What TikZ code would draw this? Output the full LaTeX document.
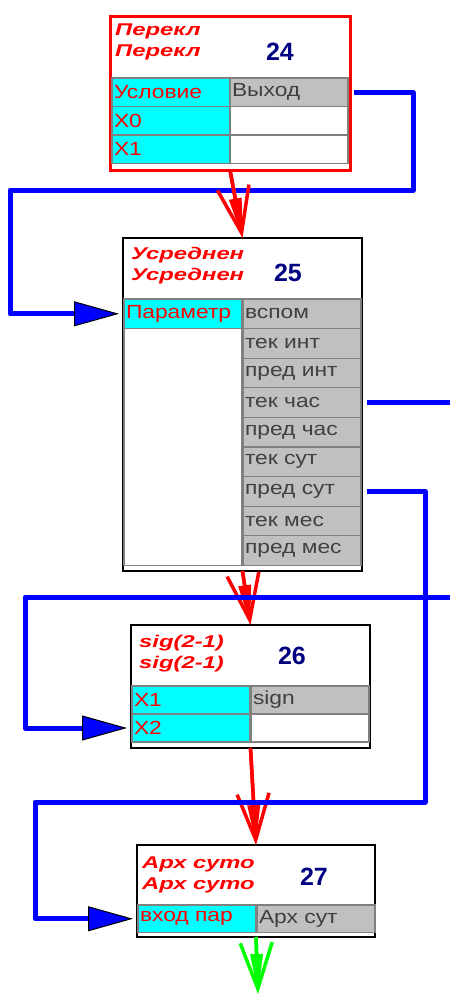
\documentclass[tikz,border=0pt]{standalone}
\usepackage{fontspec}
\usetikzlibrary{arrows.meta,positioning}
\newfontfamily\cellfont[FakeStretch=1.2]{Liberation Sans}
\newfontfamily\titlefont[FakeStretch=1.4]{Liberation Sans}
\newfontfamily\numfont{Liberation Sans}
\definecolor{silver}{RGB}{192,192,192}
\definecolor{aqua}{RGB}{0,255,255}
\definecolor{navyc}{RGB}{0,0,128}
\definecolor{portgray}{RGB}{64,64,64}
\definecolor{pure red}{RGB}{255,0,0}
\definecolor{lime}{RGB}{0,255,0}
\definecolor{pure blue}{RGB}{0,0,255}

\begin{document}
\begin{tikzpicture}[x=1pt,y=-1pt,
  frame/.style={draw=black,fill=white,line width=1.2pt,anchor=north west,inner sep=0pt,outer sep=0pt},
  cell/.style={draw=gray,line width=1.2pt,anchor=north west,minimum width=118pt,minimum height=28.5pt,text width=114pt,inner sep=2pt,outer sep=0pt,align=left,font=\cellfont\fontsize{19}{22}\selectfont},
  inport/.style={cell,fill=aqua,text=pure red},
  outport/.style={cell,fill=silver,text=portgray},
  blank/.style={cell,fill=white},
  title/.style={text=pure red,anchor=west,align=left,inner sep=0pt,font=\titlefont\bfseries\itshape\fontsize{17}{21}\selectfont},
  num/.style={text=navyc,font=\numfont\bfseries\fontsize{25}{25}\selectfont},
  flow/.style={pure red,line width=3.5pt,-{Straight Barb[length=46pt,width=32pt,line width=3.5pt]},
    postaction={draw,-{Triangle[length=40pt,width=12pt]}}},
  link/.style={pure blue,line width=5pt,line join=round,shorten <=6pt,shorten >=5pt,-{Triangle[length=45pt,width=25pt,color=black,fill=pure blue,line width=1pt]}}]
\useasboundingbox (0,0) rectangle (450,994);

% block 24
\node[frame,draw=pure red,line width=3pt,minimum width=240pt,minimum height=154pt] (b24) at (110,16) {};
\node[title] (t24) at (115,42) {Перекл\\Перекл};
\node[num] (n24) at (280,52) {24};
\node[inport] (cond) at (112,78) {Условие};
\node[outport,right=0pt of cond] (vyhod) {Выход};
\node[inport,below=0pt of cond] (x0) {X0};
\node[blank,right=0pt of x0] (e24a) {};
\node[inport,below=0pt of x0] (x1) {X1};
\node[blank,right=0pt of x1] (e24b) {};

% block 25
\node[frame,minimum width=239pt,minimum height=333pt] (b25) at (123,238) {};
\node[title] (t25) at (131,266) {Усреднен\\Усреднен};
\node[num] (n25) at (288,273) {25};
\begin{scope}[cell/.append style={minimum height=29.6pt}]
\node[inport] (param) at (124,299) {Параметр};
\node[blank,below=0pt of param,minimum height=236.8pt] (e25) {};
\node[outport,right=1pt of param] (vspom) {вспом};
\node[outport,below=0pt of vspom] (tekint) {тек инт};
\node[outport,below=0pt of tekint] (predint) {пред инт};
\node[outport,below=0pt of predint] (tekchas) {тек час};
\node[outport,below=0pt of tekchas] (predchas) {пред час};
\node[outport,below=0pt of predchas] (teksut) {тек сут};
\node[outport,below=0pt of teksut] (predsut) {пред сут};
\node[outport,below=0pt of predsut] (tekmes) {тек мес};
\node[outport,below=0pt of tekmes] (predmes) {пред мес};
\end{scope}

% block 26
\node[frame,minimum width=239pt,minimum height=123pt] (b26) at (131,625) {};
\node[title] (t26) at (139,654) {sig(2-1)\\sig(2-1)};
\node[num] (n26) at (292,656) {26};
\begin{scope}[cell/.append style={minimum height=28pt}]
\node[inport] (sx1) at (132,686) {X1};
\node[outport,right=1pt of sx1] (sign) {sign};
\node[inport,below=0pt of sx1] (sx2) {X2};
\node[blank,right=1pt of sx2] (e26) {};
\end{scope}

% block 27
\node[frame,minimum width=238pt,minimum height=92pt] (b27) at (137,845) {};
\node[title] (t27) at (142,875) {Арх суто\\Арх суто};
\node[num] (n27) at (314,877) {27};
\begin{scope}[cell/.append style={minimum height=27.5pt}]
\node[inport] (vhod) at (138,905) {вход пар};
\node[outport,right=1pt of vhod] (arhsut) {Арх сут};
\end{scope}
\coordinate (out27) at (258,994);

% links
\draw[link] (vyhod.east) -| (413,190) -| (10,0 |- param.west) -- (param.west);
\draw[flow] (b24.south) -- (b25.north);
\draw[flow] (b25.south) -- (b26.north);
\draw[flow] (b26.south) -- (b27.north);
\draw[flow,lime] (b27.south) -- (out27);
\draw[link] (tekchas.east) -- (460,0 |- tekchas.east) -- (460,597) -- (25,597) -- (25,0 |- sx2.west) -- (sx2.west);
\draw[link] (predsut.east) -- (425,0 |- predsut.east) -- (425,802) -- (35,802) -- (35,0 |- vhod.west) -- (vhod.west);
\end{tikzpicture}
\end{document}
